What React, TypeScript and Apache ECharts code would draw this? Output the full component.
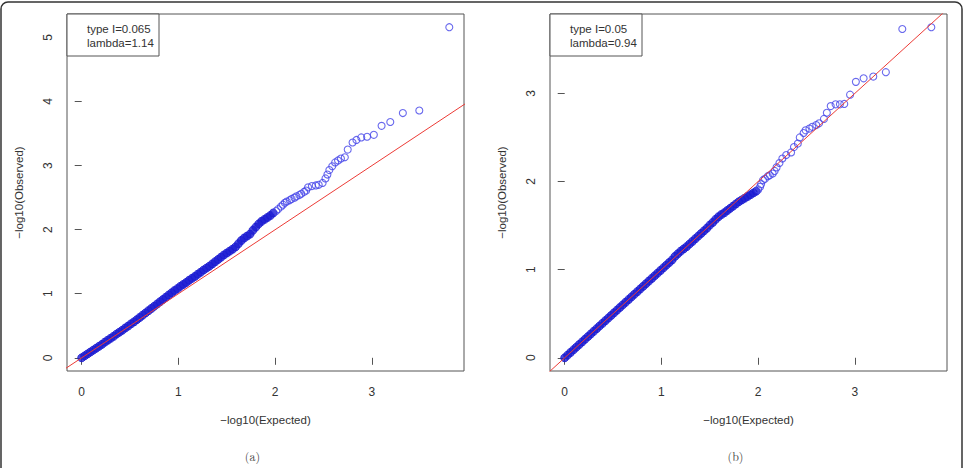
import { useEffect, useRef } from "react";
import * as echarts from "echarts";

// Tick positions shared by both QQ panels
const xTicks = [0, 1, 2, 3];
const yTicksA = [0, 1, 2, 3, 4, 5];
const yTicksB = [0, 1, 2, 3];

// Panel (a): [expected, observed] pairs, dense body of the distribution
const denseA: [number, number][] = [
  [0, 0], [0.03, 0.03], [0.06, 0.06], [0.09, 0.09], [0.12, 0.12], [0.15, 0.15],
  [0.18, 0.18], [0.21, 0.21], [0.24, 0.245], [0.27, 0.275], [0.3, 0.305], [0.33, 0.335],
  [0.36, 0.37], [0.39, 0.4], [0.42, 0.43], [0.45, 0.465], [0.48, 0.495], [0.51, 0.53],
  [0.54, 0.56], [0.57, 0.595], [0.6, 0.63], [0.63, 0.665], [0.66, 0.7], [0.69, 0.735],
  [0.72, 0.77], [0.75, 0.805], [0.78, 0.84], [0.81, 0.875], [0.84, 0.91], [0.87, 0.945],
  [0.9, 0.98], [0.93, 1.015], [0.96, 1.05], [0.99, 1.08], [1.02, 1.115], [1.05, 1.145],
  [1.08, 1.175], [1.11, 1.21], [1.14, 1.24], [1.17, 1.27], [1.2, 1.305], [1.23, 1.335],
  [1.26, 1.37], [1.29, 1.4], [1.32, 1.43], [1.35, 1.465], [1.38, 1.5], [1.41, 1.535],
  [1.44, 1.57], [1.47, 1.605], [1.5, 1.635], [1.53, 1.665], [1.56, 1.695], [1.59, 1.73],
  [1.62, 1.78], [1.65, 1.83], [1.68, 1.87], [1.71, 1.9], [1.74, 1.93], [1.77, 1.99],
  [1.8, 2.04], [1.83, 2.09], [1.86, 2.13], [1.89, 2.16], [1.92, 2.19], [1.95, 2.22],
  [1.98, 2.26],
];

// Panel (a): upper tail, individual markers
const tailA: [number, number][] = [
  [2.01, 2.29], [2.03, 2.32], [2.06, 2.36], [2.08, 2.39], [2.1, 2.42], [2.12, 2.44],
  [2.15, 2.46], [2.17, 2.48], [2.2, 2.5], [2.22, 2.52], [2.25, 2.54], [2.27, 2.56],
  [2.3, 2.59], [2.32, 2.61], [2.34, 2.66], [2.38, 2.68], [2.42, 2.69], [2.45, 2.7],
  [2.49, 2.73], [2.52, 2.8], [2.54, 2.86], [2.56, 2.93], [2.59, 2.99], [2.62, 3.05],
  [2.65, 3.08], [2.68, 3.11], [2.72, 3.13], [2.75, 3.25], [2.8, 3.36], [2.84, 3.4],
  [2.89, 3.44], [2.95, 3.45], [3.02, 3.48], [3.1, 3.62], [3.19, 3.68], [3.32, 3.82],
  [3.49, 3.86], [3.8, 5.16],
];

// Panel (b): dense body
const denseB: [number, number][] = [
  [0, 0], [0.03, 0.03], [0.06, 0.06], [0.09, 0.09], [0.12, 0.12], [0.15, 0.15],
  [0.18, 0.18], [0.21, 0.21], [0.24, 0.24], [0.27, 0.27], [0.3, 0.3], [0.33, 0.33],
  [0.36, 0.36], [0.39, 0.39], [0.42, 0.42], [0.45, 0.45], [0.48, 0.48], [0.51, 0.51],
  [0.54, 0.54], [0.57, 0.57], [0.6, 0.6], [0.63, 0.63], [0.66, 0.66], [0.69, 0.69],
  [0.72, 0.72], [0.75, 0.75], [0.78, 0.78], [0.81, 0.81], [0.84, 0.84], [0.87, 0.87],
  [0.9, 0.9], [0.93, 0.93], [0.96, 0.96], [0.99, 0.99], [1.02, 1.02], [1.05, 1.05],
  [1.08, 1.08], [1.11, 1.11], [1.14, 1.15], [1.17, 1.18], [1.2, 1.21], [1.23, 1.235],
  [1.26, 1.26], [1.29, 1.29], [1.32, 1.32], [1.35, 1.35], [1.38, 1.38], [1.41, 1.41],
  [1.44, 1.44], [1.47, 1.47], [1.5, 1.505], [1.53, 1.535], [1.56, 1.57], [1.59, 1.6],
  [1.62, 1.625], [1.65, 1.645], [1.68, 1.67], [1.71, 1.695], [1.74, 1.72], [1.77, 1.745],
  [1.8, 1.77], [1.83, 1.79], [1.86, 1.81], [1.89, 1.83], [1.92, 1.85], [1.95, 1.87],
  [1.98, 1.89],
];

// Panel (b): upper tail
const tailB: [number, number][] = [
  [2.0, 1.91], [2.02, 1.94], [2.03, 1.97], [2.05, 2.015], [2.07, 2.03], [2.1, 2.06],
  [2.12, 2.07], [2.15, 2.09], [2.17, 2.12], [2.19, 2.16], [2.22, 2.21], [2.25, 2.26],
  [2.29, 2.3], [2.34, 2.33], [2.37, 2.39], [2.41, 2.43], [2.43, 2.5], [2.47, 2.55],
  [2.49, 2.58], [2.53, 2.6], [2.56, 2.62], [2.6, 2.64], [2.63, 2.66], [2.68, 2.71],
  [2.71, 2.78], [2.75, 2.855], [2.8, 2.875], [2.845, 2.875], [2.89, 2.88], [2.95, 2.985],
  [3.01, 3.13], [3.09, 3.17], [3.19, 3.19], [3.32, 3.24], [3.49, 3.73], [3.79, 3.75],
];

// Null expectation: observed = expected
const diagonal: [number, number][] = [[-1, -1], [6, 6]];

const statsA = ["type I=0.065", "lambda=1.14"];
const statsB = ["type I=0.05", "lambda=0.94"];
const captions = ["(a)", "(b)"];

const SANS = "'Liberation Sans', Arial, Helvetica, sans-serif";
const SERIF = "'Latin Modern Roman', 'DejaVu Serif', 'Liberation Serif', serif";
const TOP = 14;
const W = 397;
const H = 357;

const panels = [
  { left: 67, dense: denseA, tail: tailA, yMin: -0.206, yMax: 5.366, yTicks: yTicksA, stats: statsA, caption: captions[0] },
  { left: 550, dense: denseB, tail: tailB, yMin: -0.15, yMax: 3.9, yTicks: yTicksB, stats: statsB, caption: captions[1] },
];

export default function App() {
  const ref = useRef<HTMLDivElement>(null);

  useEffect(() => {
    if (!ref.current) return;
    const chart = echarts.init(ref.current, undefined, { renderer: "svg" });

    const tickLabel = { fontSize: 12, color: "#333", fontFamily: SANS };
    const axisName = { fontSize: 11.5, color: "#333", fontFamily: SANS };

    const graphic: any[] = [
      {
        type: "rect",
        shape: { x: 1, y: 2, width: 961, height: 520, r: 7 },
        style: { fill: "none", stroke: "#333", lineWidth: 1.5 },
        silent: true,
      },
    ];
    panels.forEach((p) => {
      graphic.push({
        type: "rect",
        shape: { x: p.left, y: TOP, width: 92, height: 42 },
        style: { fill: "#fff", stroke: "#555", lineWidth: 1 },
        z: 10,
      });
      p.stats.forEach((s, j) => {
        graphic.push({
          type: "text",
          x: p.left + 20,
          y: TOP + 15 + j * 14,
          style: { text: s, font: `11.5px ${SANS}`, fill: "#333", verticalAlign: "middle", align: "left" },
          z: 11,
        });
      });
      graphic.push({
        type: "text",
        x: p.left + W / 2 - 13,
        y: 455,
        style: { text: p.caption, font: `12px ${SERIF}`, fill: "#444", verticalAlign: "middle", align: "center" },
      });
    });

    const series: any[] = [];
    panels.forEach((p, i) => {
      // overlapping open circles in the body merge into a solid band
      series.push({
        type: "scatter",
        xAxisIndex: i,
        yAxisIndex: i,
        data: p.dense,
        symbol: "circle",
        symbolSize: 8,
        itemStyle: { color: "#1c1cd2", borderColor: "#1c1cd2", borderWidth: 1 },
        silent: true,
        z: 2,
      });
      series.push({
        type: "scatter",
        xAxisIndex: i,
        yAxisIndex: i,
        data: p.tail,
        symbol: "circle",
        symbolSize: 7,
        itemStyle: { color: "rgba(0,0,0,0)", borderColor: "#4444e8", borderWidth: 1.1 },
        silent: true,
        z: 2,
      });
      series.push({
        type: "line",
        xAxisIndex: i,
        yAxisIndex: i,
        data: diagonal,
        showSymbol: false,
        clip: true,
        lineStyle: { color: "#ec3b36", width: 1 },
        silent: true,
        z: 5,
      });
    });

    chart.setOption({
      animation: false,
      backgroundColor: "#fff",
      grid: panels.map((p) => ({
        left: p.left,
        top: TOP,
        width: W,
        height: H,
        show: true,
        borderColor: "#555",
        borderWidth: 1,
        backgroundColor: "transparent",
      })),
      xAxis: panels.map((p, i) => ({
        type: "value",
        gridIndex: i,
        min: -0.152,
        max: 3.952,
        splitLine: { show: false },
        axisLine: { show: false },
        axisTick: { show: true, length: 7, customValues: xTicks, lineStyle: { color: "#555" } },
        axisLabel: { ...tickLabel, customValues: xTicks, margin: 15 },
        name: "−log10(Expected)",
        nameLocation: "middle",
        nameGap: 43,
        nameTextStyle: axisName,
      })),
      yAxis: panels.map((p, i) => ({
        type: "value",
        gridIndex: i,
        min: p.yMin,
        max: p.yMax,
        splitLine: { show: false },
        axisLine: { show: false },
        axisTick: { show: true, length: 7, customValues: p.yTicks, lineStyle: { color: "#555" } },
        axisLabel: { ...tickLabel, customValues: p.yTicks, rotate: 90, margin: 13 },
        name: "−log10(Observed)",
        nameLocation: "middle",
        nameGap: 42,
        nameTextStyle: axisName,
      })),
      series,
      graphic,
    });

    return () => chart.dispose();
  }, []);

  return (
    <div
      ref={ref}
      style={{ position: "absolute", left: 0, top: 0, width: 965, height: 468, background: "#fff" }}
    />
  );
}
